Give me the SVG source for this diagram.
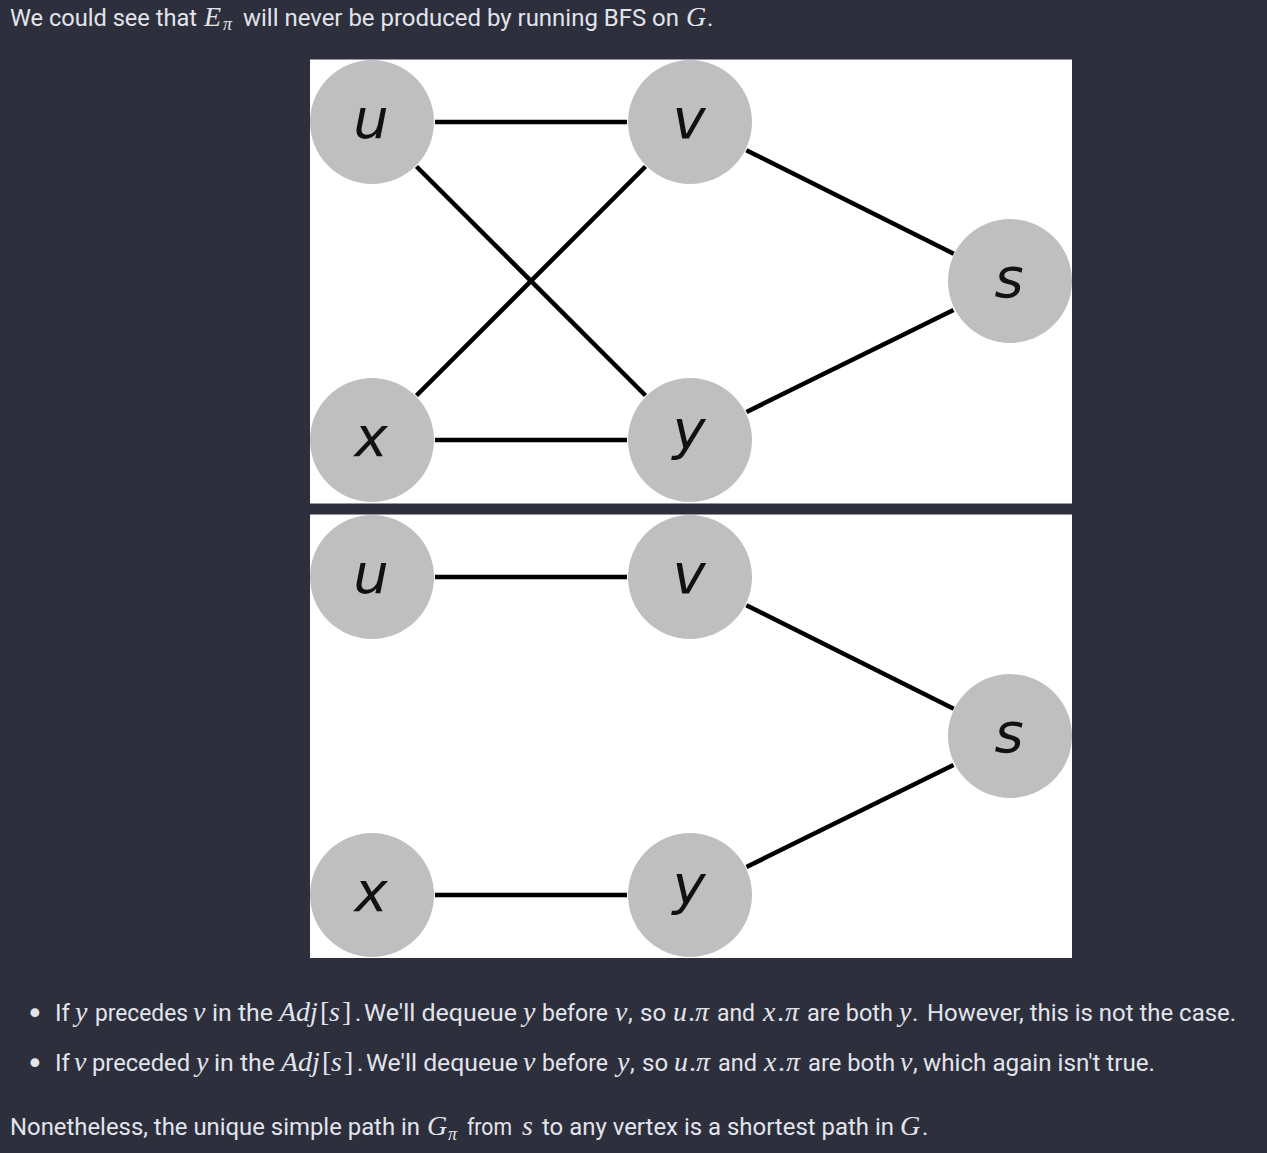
<svg xmlns="http://www.w3.org/2000/svg" width="1267" height="1153" viewBox="0 0 1267 1153">
<style>
.bg{fill:#2d2f3c}
.panel{fill:#ffffff}
.node{fill:#bfbfbf}
.lbl{font-family:"DejaVu Sans",sans-serif;font-style:italic;font-size:56px;fill:#111111;text-anchor:middle}
.edge{stroke:#000000;stroke-width:4.5;fill:none}
.t{font-family:Roboto,"Liberation Sans",sans-serif;font-size:24px;fill:#e2e4ec}
.m{font-family:"Liberation Serif",serif;font-style:italic;font-size:28px;fill:#e2e4ec}
.mu{font-family:"Liberation Serif",serif;font-style:normal;font-size:28px;fill:#e2e4ec}
.sub{font-family:"Liberation Serif",serif;font-style:italic;font-size:18px;fill:#e2e4ec}
.blt{font-family:"DejaVu Sans",sans-serif;font-size:30px;fill:#e2e4ec}
</style>
<rect class="bg" x="0" y="0" width="1267" height="1153"/>

<g id="text-top">
<text class="t" x="10" y="25.5" textLength="187" lengthAdjust="spacingAndGlyphs">We could see that</text>
<text class="m" x="204" y="25.5">E</text>
<text class="sub" x="223" y="30">π</text>
<text class="t" x="243" y="25.5" textLength="436" lengthAdjust="spacingAndGlyphs">will never be produced by running BFS on</text>
<text class="m" x="686" y="25.5">G</text>
<text class="t" x="707" y="25.5">.</text>
</g>

<g id="panel-top">
<rect class="panel" x="310" y="59.5" width="762" height="444"/>
</g>
<g id="panel-bottom">
<rect class="panel" x="310" y="514.5" width="762" height="443.5"/>
</g>

<g id="connectors">
<line class="edge" x1="435" y1="122" x2="627" y2="122"/>
<line class="edge" x1="416.5" y1="166.5" x2="645.5" y2="395.5"/>
<line class="edge" x1="416.5" y1="395.5" x2="645.5" y2="166.5"/>
<line class="edge" x1="746.3" y1="150.2" x2="953.7" y2="253.8"/>
<line class="edge" x1="746.5" y1="412" x2="953.5" y2="310"/>
<line class="edge" x1="435" y1="440" x2="627" y2="440"/>
<line class="edge" x1="435" y1="577" x2="627" y2="577"/>
<line class="edge" x1="746.3" y1="605.2" x2="953.7" y2="708.8"/>
<line class="edge" x1="746.5" y1="867" x2="953.5" y2="765"/>
<line class="edge" x1="435" y1="895" x2="627" y2="895"/>
</g>

<g id="node-u1"><circle class="node" cx="372" cy="122" r="62"/><text class="lbl" x="371" y="137.5">u</text></g>
<g id="node-v1"><circle class="node" cx="690" cy="122" r="62"/><text class="lbl" x="689" y="137.5">v</text></g>
<g id="node-s1"><circle class="node" cx="1010" cy="281" r="62"/><text class="lbl" x="1009" y="297">s</text></g>
<g id="node-x1"><circle class="node" cx="372" cy="440" r="62"/><text class="lbl" x="371" y="455.5">x</text></g>
<g id="node-y1"><circle class="node" cx="690" cy="440" r="62"/><text class="lbl" x="689" y="449">y</text></g>

<g id="node-u2"><circle class="node" cx="372" cy="577" r="62"/><text class="lbl" x="371" y="592.5">u</text></g>
<g id="node-v2"><circle class="node" cx="690" cy="577" r="62"/><text class="lbl" x="689" y="592.5">v</text></g>
<g id="node-s2"><circle class="node" cx="1010" cy="736" r="62"/><text class="lbl" x="1009" y="752">s</text></g>
<g id="node-x2"><circle class="node" cx="372" cy="895" r="62"/><text class="lbl" x="371" y="910.5">x</text></g>
<g id="node-y2"><circle class="node" cx="690" cy="895" r="62"/><text class="lbl" x="689" y="904">y</text></g>

<g id="bullet-1">
<text class="blt" x="26" y="1024">•</text>
<text class="t" x="55" y="1021">If</text>
<text class="m" x="75" y="1021">y</text>
<text class="t" x="95" y="1021" textLength="93" lengthAdjust="spacingAndGlyphs">precedes</text>
<text class="m" x="193" y="1021">v</text>
<text class="t" x="212" y="1021" textLength="61" lengthAdjust="spacingAndGlyphs">in the</text>
<text class="m" y="1021"><tspan x="279">A</tspan><tspan x="296">d</tspan><tspan x="310">j</tspan><tspan class="mu" x="320">[</tspan><tspan x="329">s</tspan><tspan class="mu" x="342">]</tspan></text>
<text class="t" x="355" y="1021">.</text>
<text class="t" x="364" y="1021" textLength="153" lengthAdjust="spacingAndGlyphs">We'll dequeue</text>
<text class="m" x="523" y="1021">y</text>
<text class="t" x="542" y="1021" textLength="66" lengthAdjust="spacingAndGlyphs">before</text>
<text class="m" x="615" y="1021">v</text>
<text class="t" x="628" y="1021">,</text>
<text class="t" x="640" y="1021">so</text>
<text class="m" y="1021"><tspan x="673">u</tspan><tspan class="mu" x="688">.</tspan><tspan x="695">π</tspan></text>
<text class="t" x="717" y="1021" textLength="38" lengthAdjust="spacingAndGlyphs">and</text>
<text class="m" y="1021"><tspan x="763">x</tspan><tspan class="mu" x="777">.</tspan><tspan x="785">π</tspan></text>
<text class="t" x="807" y="1021" textLength="86" lengthAdjust="spacingAndGlyphs">are both</text>
<text class="m" x="899" y="1021">y</text>
<text class="t" x="912" y="1021">.</text>
<text class="t" x="927" y="1021" textLength="309" lengthAdjust="spacingAndGlyphs">However, this is not the case.</text>
</g>

<g id="bullet-2">
<text class="blt" x="26" y="1074">•</text>
<text class="t" x="55" y="1071">If</text>
<text class="m" x="74" y="1071">v</text>
<text class="t" x="92" y="1071" textLength="98" lengthAdjust="spacingAndGlyphs">preceded</text>
<text class="m" x="196" y="1071">y</text>
<text class="t" x="214" y="1071" textLength="61" lengthAdjust="spacingAndGlyphs">in the</text>
<text class="m" y="1071"><tspan x="281">A</tspan><tspan x="298">d</tspan><tspan x="312">j</tspan><tspan class="mu" x="322">[</tspan><tspan x="331">s</tspan><tspan class="mu" x="344">]</tspan></text>
<text class="t" x="357" y="1071">.</text>
<text class="t" x="366" y="1071" textLength="152" lengthAdjust="spacingAndGlyphs">We'll dequeue</text>
<text class="m" x="523" y="1071">v</text>
<text class="t" x="542" y="1071" textLength="66" lengthAdjust="spacingAndGlyphs">before</text>
<text class="m" x="617" y="1071">y</text>
<text class="t" x="630" y="1071">,</text>
<text class="t" x="642" y="1071">so</text>
<text class="m" y="1071"><tspan x="674">u</tspan><tspan class="mu" x="689">.</tspan><tspan x="696">π</tspan></text>
<text class="t" x="718" y="1071" textLength="39" lengthAdjust="spacingAndGlyphs">and</text>
<text class="m" y="1071"><tspan x="764">x</tspan><tspan class="mu" x="778">.</tspan><tspan x="786">π</tspan></text>
<text class="t" x="808" y="1071" textLength="87" lengthAdjust="spacingAndGlyphs">are both</text>
<text class="m" x="900" y="1071">v</text>
<text class="t" x="913" y="1071">,</text>
<text class="t" x="923" y="1071" textLength="232" lengthAdjust="spacingAndGlyphs">which again isn't true.</text>
</g>

<g id="text-bottom">
<text class="t" x="10" y="1135" textLength="410" lengthAdjust="spacingAndGlyphs">Nonetheless, the unique simple path in</text>
<text class="m" x="427" y="1135">G</text>
<text class="sub" x="448" y="1139.5">π</text>
<text class="t" x="467" y="1135" textLength="45" lengthAdjust="spacingAndGlyphs">from</text>
<text class="m" x="522" y="1135">s</text>
<text class="t" x="542" y="1135" textLength="352" lengthAdjust="spacingAndGlyphs">to any vertex is a shortest path in</text>
<text class="m" x="900" y="1135">G</text>
<text class="t" x="922" y="1135">.</text>
</g>
</svg>
